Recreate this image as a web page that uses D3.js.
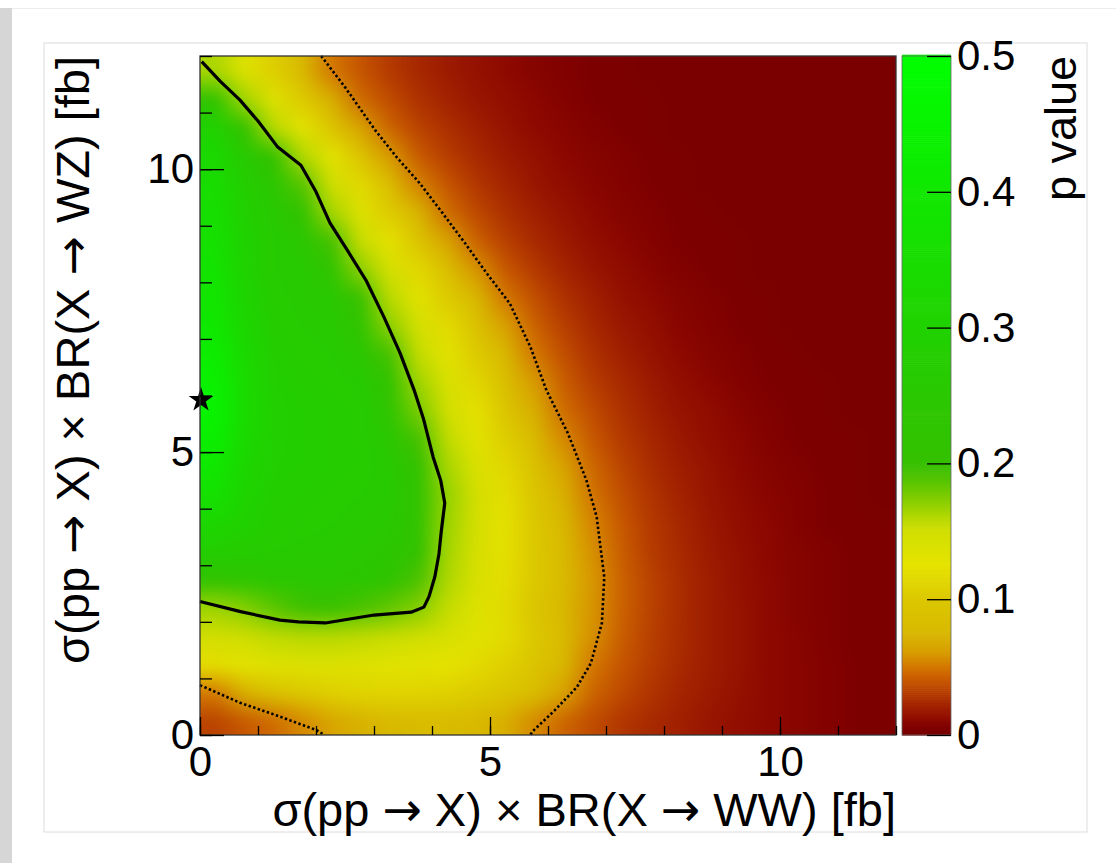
<!DOCTYPE html>
<html>
<head>
<meta charset="utf-8">
<script src="https://cdn.jsdelivr.net/npm/d3@7"></script>
<style>
  body { margin: 0; background: #fff; }
  svg text { font-family: "Liberation Sans", Arial, Helvetica, sans-serif; fill: #000; }
</style>
</head>
<body>
<svg id="chart" width="1116" height="863"></svg>
<script>
// p value per 0.5 x 0.5 bin, rows from WZ = 0.25 (bottom) to 11.75 (top),
// columns from WW = 0.25 to 11.75
const binCentersWW = [0.25,0.75,1.25,1.75,2.25,2.75,3.25,3.75,4.25,4.75,5.25,5.75,6.25,6.75,7.25,7.75,8.25,8.75,9.25,9.75,10.25,10.75,11.25,11.75];
const binCentersWZ = binCentersWW.slice();
const pRows = [
  [0.033,0.040,0.046,0.055,0.065,0.072,0.077,0.079,0.079,0.077,0.070,0.055,0.044,0.036,0.029,0.024,0.020,0.016,0.013,0.011,0.009,0.007,0.005,0.003],
  [0.050,0.070,0.088,0.100,0.107,0.110,0.111,0.110,0.108,0.103,0.095,0.083,0.063,0.044,0.035,0.028,0.022,0.018,0.014,0.011,0.009,0.007,0.005,0.003],
  [0.120,0.128,0.132,0.134,0.134,0.133,0.131,0.128,0.124,0.117,0.107,0.094,0.077,0.050,0.039,0.031,0.024,0.019,0.015,0.011,0.009,0.007,0.005,0.003],
  [0.145,0.150,0.155,0.158,0.158,0.155,0.152,0.148,0.142,0.132,0.118,0.100,0.080,0.057,0.042,0.032,0.025,0.019,0.015,0.011,0.009,0.006,0.004,0.003],
  [0.165,0.172,0.185,0.195,0.197,0.190,0.183,0.172,0.154,0.135,0.116,0.096,0.077,0.058,0.043,0.033,0.025,0.019,0.015,0.011,0.008,0.006,0.004,0.003],
  [0.220,0.235,0.245,0.250,0.250,0.245,0.225,0.190,0.161,0.140,0.120,0.100,0.079,0.059,0.043,0.033,0.025,0.019,0.014,0.011,0.008,0.006,0.004,0.003],
  [0.280,0.270,0.265,0.260,0.258,0.255,0.245,0.209,0.164,0.142,0.121,0.100,0.079,0.057,0.042,0.031,0.024,0.018,0.014,0.010,0.008,0.006,0.004,0.003],
  [0.320,0.295,0.275,0.270,0.265,0.260,0.255,0.217,0.166,0.144,0.122,0.099,0.077,0.054,0.040,0.030,0.023,0.017,0.013,0.010,0.007,0.005,0.004,0.003],
  [0.370,0.310,0.280,0.275,0.270,0.265,0.260,0.221,0.168,0.144,0.120,0.096,0.072,0.049,0.037,0.028,0.021,0.016,0.012,0.009,0.007,0.005,0.003,0.002],
  [0.400,0.320,0.285,0.280,0.275,0.270,0.260,0.209,0.163,0.138,0.114,0.089,0.065,0.045,0.034,0.025,0.019,0.015,0.011,0.008,0.006,0.004,0.003,0.002],
  [0.430,0.330,0.290,0.280,0.275,0.270,0.249,0.193,0.155,0.130,0.105,0.080,0.055,0.040,0.030,0.023,0.017,0.013,0.010,0.007,0.005,0.004,0.003,0.002],
  [0.450,0.340,0.290,0.280,0.275,0.270,0.232,0.176,0.147,0.122,0.096,0.070,0.047,0.036,0.027,0.020,0.015,0.012,0.009,0.006,0.004,0.003,0.002,0.002],
  [0.440,0.340,0.285,0.275,0.270,0.265,0.215,0.165,0.139,0.113,0.086,0.060,0.042,0.031,0.024,0.018,0.013,0.010,0.007,0.005,0.004,0.003,0.002,0.002],
  [0.420,0.330,0.280,0.270,0.265,0.249,0.193,0.154,0.128,0.102,0.076,0.050,0.037,0.027,0.020,0.015,0.011,0.008,0.006,0.004,0.003,0.002,0.002,0.002],
  [0.400,0.320,0.275,0.265,0.260,0.226,0.170,0.143,0.117,0.090,0.063,0.043,0.032,0.023,0.017,0.013,0.009,0.007,0.005,0.003,0.002,0.002,0.002,0.002],
  [0.390,0.310,0.270,0.260,0.254,0.198,0.157,0.130,0.103,0.077,0.050,0.037,0.027,0.020,0.014,0.011,0.008,0.006,0.004,0.003,0.002,0.002,0.002,0.002],
  [0.380,0.300,0.265,0.260,0.226,0.170,0.142,0.114,0.086,0.058,0.040,0.030,0.022,0.016,0.012,0.009,0.006,0.004,0.003,0.002,0.002,0.002,0.002,0.002],
  [0.370,0.300,0.265,0.249,0.193,0.152,0.123,0.094,0.065,0.043,0.032,0.024,0.018,0.013,0.010,0.007,0.005,0.004,0.003,0.002,0.002,0.002,0.002,0.002],
  [0.360,0.290,0.260,0.215,0.164,0.134,0.104,0.074,0.047,0.035,0.026,0.020,0.015,0.011,0.008,0.006,0.004,0.003,0.002,0.002,0.002,0.002,0.002,0.002],
  [0.350,0.280,0.243,0.187,0.148,0.116,0.085,0.053,0.039,0.029,0.022,0.016,0.012,0.009,0.007,0.005,0.003,0.002,0.002,0.002,0.002,0.002,0.002,0.002],
  [0.330,0.260,0.209,0.160,0.127,0.093,0.060,0.041,0.031,0.024,0.018,0.014,0.010,0.008,0.006,0.004,0.003,0.002,0.002,0.002,0.002,0.002,0.002,0.002],
  [0.300,0.204,0.158,0.127,0.096,0.065,0.044,0.033,0.026,0.020,0.015,0.011,0.009,0.006,0.004,0.003,0.002,0.002,0.002,0.002,0.002,0.002,0.002,0.002],
  [0.220,0.164,0.133,0.102,0.071,0.046,0.036,0.027,0.021,0.016,0.013,0.010,0.007,0.005,0.004,0.003,0.002,0.002,0.002,0.002,0.002,0.002,0.002,0.002],
  [0.162,0.134,0.106,0.078,0.050,0.039,0.030,0.023,0.018,0.014,0.011,0.008,0.006,0.004,0.003,0.002,0.002,0.002,0.002,0.002,0.002,0.002,0.002,0.002]
];

// contours, [WW, WZ]
const solidContour = [[0.03,11.9],[0.35,11.55],[0.69,11.22],[1.0,10.85],[1.34,10.39],[1.74,10.07],[2.0,9.6],[2.24,9.05],[2.55,8.55],[2.86,8.04],[3.17,7.39],[3.45,6.75],[3.69,6.1],[3.85,5.6],[4.02,4.91],[4.15,4.5],[4.22,4.1],[4.16,3.6],[4.12,3.2],[4.05,2.8],[3.95,2.45],[3.86,2.26],[3.64,2.17],[3.0,2.12],[2.16,1.98],[1.7,2.0],[1.38,2.03],[0.7,2.18],[0.0,2.36]];
const dottedContour = [[2.09,12],[2.5,11.45],[3.02,10.69],[3.4,10.2],[3.79,9.75],[4.2,9.2],[4.57,8.69],[4.95,8.15],[5.34,7.63],[5.7,6.85],[5.97,6.1],[6.34,5.34],[6.66,4.51],[6.84,3.85],[6.97,2.79],[6.93,1.98],[6.74,1.27],[6.5,0.85],[6.12,0.44],[5.72,0.05],[5.7,0]];
const dottedCorner = [[0,0.88],[0.07,0.85],[0.69,0.57],[1.31,0.35],[2.0,0.09],[2.15,0]];
const bestFit = [0, 5.92];

const majorTicks = [0, 5, 10];
const minorTicks = [0,1,2,3,4,5,6,7,8,9,10,11,12];
const zTicks = [0, 0.1, 0.2, 0.3, 0.4, 0.5];
const zTickLabels = ["0", "0.1", "0.2", "0.3", "0.4", "0.5"];

// palette stops
const paletteStops = [0, 0.005, 0.01, 0.02, 0.03, 0.04, 0.05, 0.06, 0.075, 0.1, 0.125, 0.15, 0.16, 0.17, 0.19, 0.2, 0.25, 0.3, 0.4, 0.5];
const paletteColors = ["#780000","#7e0000","#8c0800","#a02000","#b43a00","#c85800","#d47800","#d89c00","#d8b800","#dcc800","#e6e400","#d0de00","#b4d800","#8ed000","#4cc200","#34c000","#2ac800","#20d200","#10e800","#00ff00"];

const xTitle = ["σ(pp ", "→", " X) × BR(X ", "→", " WW) [fb]"];
const yTitle = ["σ(pp ", "→", " X) × BR(X ", "→", " WZ) [fb]"];
const zTitle = ["p value"];

const svg = d3.select("#chart");
const plotLeft = 200, plotRight = 896, plotTop = 56, plotBottom = 735;

const x = d3.scaleLinear().domain([0, 12]).range([plotLeft, plotRight]);
const y = d3.scaleLinear().domain([0, 12]).range([plotBottom, plotTop]);
const color = d3.scaleLinear().domain(paletteStops).range(paletteColors).clamp(true);
const zScale = d3.scaleLinear().domain([0, 0.5]).range([plotBottom, plotTop]);

// page decoration
svg.append("rect").attr("x", 0).attr("y", 0).attr("width", 1116).attr("height", 863).attr("fill", "#fff");
svg.append("rect").attr("x", 0).attr("y", 8).attr("width", 12).attr("height", 855).attr("fill", "#d6d6d6");
svg.append("line").attr("x1", 12).attr("x2", 1116).attr("y1", 8.5).attr("y2", 8.5).attr("stroke", "#ececec");
svg.append("rect").attr("x", 44).attr("y", 43).attr("width", 1043).attr("height", 789)
  .attr("fill", "none").attr("stroke", "#dcdcdc");

// heat map: one pixel per bin (edge bins repeated as padding),
// scaled up with smoothing and softened a little
const nx = binCentersWW.length, ny = binCentersWZ.length;
const small = document.createElement("canvas");
small.width = nx + 2; small.height = ny + 2;
const sctx = small.getContext("2d");
const img = sctx.createImageData(nx + 2, ny + 2);
for (let r = 0; r < ny + 2; r++) {
  for (let c = 0; c < nx + 2; c++) {
    const j = Math.min(ny - 1, Math.max(0, ny - r));
    const i = Math.min(nx - 1, Math.max(0, c - 1));
    const col = d3.rgb(color(pRows[j][i]));
    const k = (r * (nx + 2) + c) * 4;
    img.data[k] = col.r; img.data[k + 1] = col.g; img.data[k + 2] = col.b; img.data[k + 3] = 255;
  }
}
sctx.putImageData(img, 0, 0);

const W = Math.round(x(12) - x(0)), H = Math.round(y(0) - y(12));
const cw = W / nx, ch = H / ny;
const mid = document.createElement("canvas");
mid.width = Math.round(W + 2 * cw); mid.height = Math.round(H + 2 * ch);
const mctx = mid.getContext("2d");
mctx.imageSmoothingEnabled = true;
mctx.drawImage(small, 0, 0, nx + 2, ny + 2, 0, 0, mid.width, mid.height);

const big = document.createElement("canvas");
big.width = W; big.height = H;
const bctx = big.getContext("2d");
bctx.filter = "blur(6px)";
bctx.drawImage(mid, -cw, -ch);

svg.append("image")
  .attr("x", x(0)).attr("y", y(12))
  .attr("width", W).attr("height", H)
  .attr("preserveAspectRatio", "none")
  .attr("href", big.toDataURL());

// contours
const line = d3.line().x(d => x(d[0])).y(d => y(d[1]));
svg.append("path").datum(solidContour).attr("d", line)
  .attr("fill", "none").attr("stroke", "#000").attr("stroke-width", 3.2).attr("stroke-linejoin", "round");
[dottedContour, dottedCorner].forEach(c => {
  svg.append("path").datum(c).attr("d", line)
    .attr("fill", "none").attr("stroke", "#000").attr("stroke-width", 2.6)
    .attr("stroke-dasharray", "2.4 2.4");
});

// best fit star
svg.append("path")
  .attr("d", d3.symbol().type(d3.symbolStar).size(190)())
  .attr("transform", `translate(${x(bestFit[0]) + 1},${y(bestFit[1])})`)
  .attr("fill", "#000");

// frame
svg.append("rect").attr("x", plotLeft).attr("y", plotTop)
  .attr("width", plotRight - plotLeft).attr("height", plotBottom - plotTop)
  .attr("fill", "none").attr("stroke", "#333").attr("stroke-width", 1.3);

// axes, ticks drawn inside the frame
function styleAxis(g) {
  g.select(".domain").remove();
  g.selectAll("line").attr("stroke", "#000").attr("stroke-width", 1.3);
  g.selectAll("text").attr("font-size", 42).attr("fill", "#000");
}
svg.append("g").attr("transform", `translate(0,${plotBottom})`)
  .call(d3.axisBottom(x).tickValues(minorTicks).tickFormat("").tickSize(-9)).call(styleAxis);
svg.append("g").attr("transform", `translate(0,${plotBottom})`)
  .call(d3.axisBottom(x).tickValues(majorTicks).tickFormat(d3.format("d")).tickSize(-18).tickPadding(11)).call(styleAxis);
svg.append("g").attr("transform", `translate(${plotLeft},0)`)
  .call(d3.axisLeft(y).tickValues(minorTicks).tickFormat("").tickSize(-12)).call(styleAxis);
svg.append("g").attr("transform", `translate(${plotLeft},0)`)
  .call(d3.axisLeft(y).tickValues(majorTicks).tickFormat(d3.format("d")).tickSize(-24).tickPadding(6)).call(styleAxis);

// color bar
const cbLeft = 902, cbRight = 951;
const steps = d3.range(0, 0.5, 0.0015);
svg.append("g").selectAll("rect").data(steps).join("rect")
  .attr("x", cbLeft).attr("width", cbRight - cbLeft)
  .attr("y", d => zScale(d + 0.0015))
  .attr("height", d => zScale(d) - zScale(d + 0.0015) + 0.6)
  .attr("fill", d => color(d));
svg.append("rect").attr("x", cbLeft).attr("y", plotTop)
  .attr("width", cbRight - cbLeft).attr("height", plotBottom - plotTop)
  .attr("fill", "none").attr("stroke", "#666").attr("stroke-width", 0.8);
svg.append("g").attr("transform", `translate(${cbRight},0)`)
  .call(d3.axisRight(zScale).tickValues(zTicks).tickFormat((d, i) => zTickLabels[i]).tickSize(-24).tickPadding(6))
  .call(styleAxis);

// titles (arrows from DejaVu Sans, which draws them long like the original)
function title(parts, transform, size) {
  const t = svg.append("text")
    .attr("transform", transform)
    .attr("text-anchor", "end").attr("font-size", size);
  parts.forEach(p => {
    t.append("tspan").text(p)
      .attr("font-family", p === "→" ? "DejaVu Sans" : null);
  });
  return t;
}
title(xTitle, `translate(${plotRight},826)`, 47);
title(yTitle, `translate(89,${plotTop}) rotate(-90)`, 47);
title(zTitle, `translate(1076,${plotTop}) rotate(-90)`, 45);
</script>
</body>
</html>
